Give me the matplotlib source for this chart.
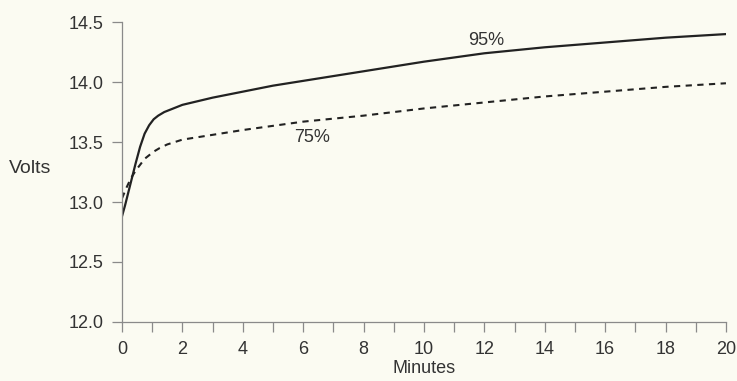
import matplotlib.pyplot as plt
import numpy as np

# charging voltage curves
minutes_95 = [0, 0.1, 0.2, 0.3, 0.45, 0.6, 0.75, 0.9, 1.05, 1.2, 1.4, 1.6, 2, 2.5, 3, 4, 5, 6,
              8, 10, 12, 14, 16, 18, 20]
volts_95 = [12.88, 12.97, 13.07, 13.17, 13.32, 13.46, 13.57, 13.64, 13.69, 13.72, 13.75,
            13.77, 13.81, 13.84, 13.87, 13.92, 13.97, 14.01, 14.09, 14.17, 14.24, 14.29,
            14.33, 14.37, 14.40]

minutes_75 = [0, 0.15, 0.3, 0.45, 0.6, 0.75, 0.9, 1.05, 1.25, 1.5, 2, 2.5, 3, 4, 6, 8, 10,
              12, 14, 16, 18, 20]
volts_75 = [13.03, 13.12, 13.2, 13.26, 13.31, 13.36, 13.39, 13.42, 13.45, 13.48, 13.52,
            13.54, 13.56, 13.6, 13.67, 13.72, 13.78, 13.83, 13.88, 13.92, 13.96, 13.99]

y_ticks = [12.0, 12.5, 13.0, 13.5, 14.0, 14.5]
x_ticks = np.arange(0, 21, 2)

bg = '#fbfbf2'
txt = '#333333'
fs = 13
plt.rcParams['font.family'] = ['Liberation Sans', 'DejaVu Sans']

fig = plt.figure(figsize=(7.37, 3.81), dpi=100, facecolor=bg)
ax = fig.add_axes([0.1655, 0.155, 0.8195, 0.787])
ax.set_facecolor(bg)

ax.plot(minutes_95, volts_95, color='#222222', lw=1.6, solid_joinstyle='round')
ax.plot(minutes_75, volts_75, color='#222222', lw=1.5, linestyle=(0, (3, 2.6)))

ax.text(12.05, 14.35, '95%', fontsize=fs, color=txt, ha='center', va='center')
ax.text(6.3, 13.54, '75%', fontsize=fs, color=txt, ha='center', va='center')

ax.set_xlim(0, 20)
ax.set_ylim(12.0, 14.5)
ax.set_xticks(x_ticks)
ax.set_xticks(np.arange(0, 21, 1), minor=True)
ax.set_yticks(y_ticks)
ax.set_yticklabels(['%.1f' % v for v in y_ticks])

for s in ['top', 'right']:
    ax.spines[s].set_visible(False)
for s in ['left', 'bottom']:
    ax.spines[s].set_color('#8a8a8a')
    ax.spines[s].set_linewidth(0.9)

ax.tick_params(axis='both', which='both', direction='out', length=7.5,
               width=0.9, color='#8a8a8a', labelsize=fs, labelcolor=txt)
ax.tick_params(axis='x', pad=6)
ax.tick_params(axis='y', pad=6)

ax.set_xlabel('Minutes', fontsize=fs, color=txt, labelpad=2)
fig.text(0.041, 0.559, 'Volts', fontsize=fs + 1, color=txt, ha='center', va='center')

fig.savefig('out.png', dpi=100, facecolor=bg)
